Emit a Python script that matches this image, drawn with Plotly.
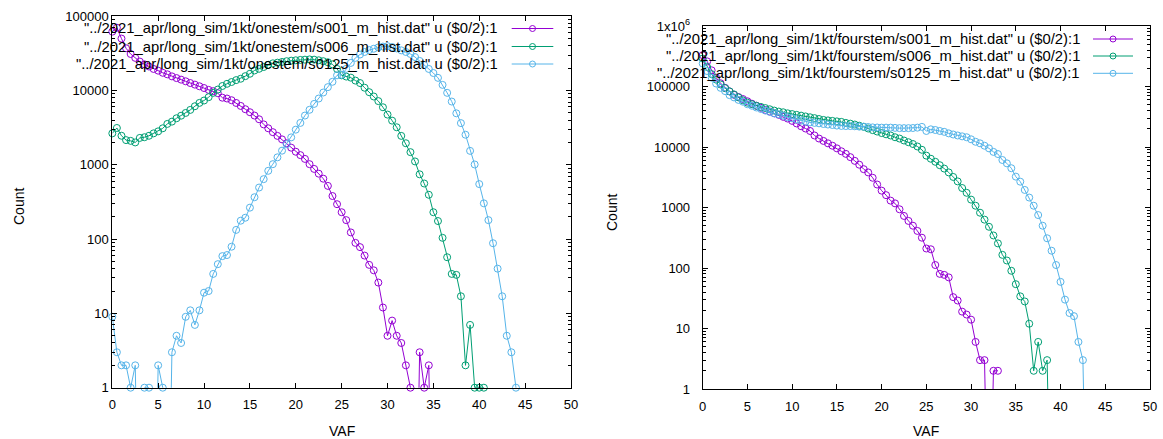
import plotly.graph_objects as go

# ---- data (counts per VAF bin, bins every 0.5 VAF: x = $0/2) ----
left_s001 = [62000, 70000, 50000, 37000, 31000, 27500, 24500, 22500, 21000, 19500,
             18500, 17300, 16500, 15500, 14700, 14000, 13300, 12600, 12000, 11400,
             10800, 10200, 9800, 9200, 8000, 7800, 7400, 6800, 6200, 5600,
             5100, 4600, 4100, 3500, 3100, 2750, 2450, 2200, 1950, 1700,
             1500, 1350, 1200, 1020, 880, 760, 650, 520, 380, 295,
             230, 180, 123, 89, 78, 60, 45, 38, 26, 12,
             5, 8, 5, 4, 2, 1, 0, 3, 1, 2, 0]
left_s006 = [2650, 3130, 2460, 2150, 2100, 2000, 2300, 2350, 2460, 2650,
             2820, 3100, 3550, 3810, 4230, 4580, 4990, 5480, 6140, 6810,
             7330, 8130, 9300, 10300, 11500, 12300, 13000, 13800, 14400, 15600,
             16800, 18600, 19600, 20700, 22200, 23200, 23700, 24200, 24800, 25200,
             25500, 25800, 26000, 26200, 26000, 25500, 24800, 24000, 22500, 19500,
             16000, 15400, 14900, 13600, 12600, 10900, 9500, 8300, 7200, 5950,
             4740, 3930, 3200, 2450, 1950, 1480, 1110, 745, 560, 395,
             230, 175, 104, 57, 34, 33, 17, 2, 7, 1, 1, 1, 0]
left_s0125 = [9, 3, 2, 2, 1, 2, 0, 1, 1, 0,
              2, 1, 0, 3, 5, 4, 9, 11, 7, 11,
              19, 20, 34, 46, 59, 61, 79, 133, 177, 194,
              265, 366, 494, 641, 830, 1020, 1260, 1550, 1900, 2340,
              2970, 3660, 4600, 5500, 6600, 7800, 9400, 11100, 13100, 16000,
              16300, 19600, 23500, 27500, 30500, 33000, 35000, 36500, 38000, 39000,
              39500, 38500, 36800, 34700, 33000, 31000, 28200, 25000, 22000, 19500,
              17200, 14800, 11900, 9300, 7100, 4930, 3640, 2540, 1540, 1010,
              550, 303, 180, 88, 40, 17, 5, 3, 1, 0]

right_s001 = [330000, 260000, 185000, 140000, 113000, 95000, 83000, 73000, 67000, 62000,
              57000, 52000, 48000, 44500, 41000, 38500, 36000, 34000, 31500, 29500,
              27000, 24500, 22000, 20200, 18400, 15500, 13800, 12600, 11500, 10500,
              9500, 8500, 7700, 6800, 5900, 5100, 4300, 3800, 3100, 2400,
              1900, 1600, 1300, 1170, 935, 725, 600, 500, 410, 317,
              210, 204, 112, 80, 77, 70, 33, 29, 19, 17,
              14, 6, 3, 3, 0, 2, 2]
right_s006 = [290000, 210000, 160000, 130000, 108000, 94000, 83000, 74000, 66000, 59000,
              54000, 51000, 48000, 46000, 44000, 42000, 40000, 38500, 37500, 36000,
              35000, 34000, 33000, 32000, 31000, 30000, 29000, 28000, 27500, 27000,
              26500, 26000, 25000, 24300, 23500, 22500, 21500, 20200, 19000, 18000,
              17000, 16200, 15500, 14500, 13800, 12800, 12000, 11200, 10200, 9000,
              7200, 6400, 5700, 5000, 4400, 3800, 3200, 2700, 2100, 1750,
              1350, 1070, 820, 630, 480, 345, 255, 165, 133, 90,
              54, 34, 28, 12, 2, 6, 2, 3, 0]
right_s0125 = [240000, 180000, 140000, 112000, 95000, 84000, 72000, 66000, 60000, 56000,
               51000, 48000, 45000, 42500, 40000, 38000, 36000, 34700, 33000, 31000,
               29800, 28500, 27300, 26200, 25500, 25000, 24600, 24000, 23500, 23100,
               22600, 22300, 22200, 22200, 22000, 21700, 21700, 21400, 21100, 21000,
               20900, 20900, 20900, 20700, 20500, 20500, 20500, 20600, 20900, 21500,
               18400, 19600, 19100, 18400, 17800, 16800, 16100, 15500, 15000, 14500,
               13400, 12200, 11500, 10500, 9500, 8300, 7650, 6100, 5370, 4460,
               3240, 2670, 1950, 1460, 1070, 750, 500, 310, 193, 112,
               59, 30, 18, 16, 6, 3, 0]

left_names = ['"../2021_apr/long_sim/1kt/onestem/s001_m_hist.dat" u ($0/2):1',
              '"../2021_apr/long_sim/1kt/onestem/s006_m_hist.dat" u ($0/2):1',
              '"../2021_apr/long_sim/1kt/onestem/s0125_m_hist.dat" u ($0/2):1']
right_names = ['"../2021_apr/long_sim/1kt/fourstem/s001_m_hist.dat" u ($0/2):1',
               '"../2021_apr/long_sim/1kt/fourstem/s006_m_hist.dat" u ($0/2):1',
               '"../2021_apr/long_sim/1kt/fourstem/s0125_m_hist.dat" u ($0/2):1']
colors = ["#9400d3", "#009e73", "#56b4e9"]
x_ticks = [0, 5, 10, 15, 20, 25, 30, 35, 40, 45, 50]
left_ytick_vals = [1, 10, 100, 1000, 10000, 100000]
left_ytick_text = ["1", "10", "100", "1000", "10000", "100000"]
right_ytick_vals = [1, 10, 100, 1000, 10000, 100000, 1000000]
right_ytick_text = ["1", "10", "100", "1000", "10000", "100000", "1x10<sup>6</sup>"]
minor_digits = [2, 3, 4, 5, 6, 7, 8, 9]

W, H = 1163, 439
FONT = "Liberation Sans, Arial, sans-serif"


def px_x(p):
    return p / W


def px_y(p):
    return 1 - p / H


def minor_positions(decades):
    return [d * 10 ** e for e in range(decades) for d in minor_digits]


fig = go.Figure()


def add_series(vals, color, xa, ya):
    xs = [i / 2 for i in range(len(vals))]
    # zero counts cannot be shown on a log axis; push them far below the range
    ys = [v if v > 0 else 1e-3 for v in vals]
    fig.add_trace(go.Scatter(
        x=xs, y=ys, mode="lines+markers", xaxis=xa, yaxis=ya,
        line=dict(color=color, width=1),
        marker=dict(symbol="circle-open", size=7, color=color, line=dict(width=1, color=color)),
        cliponaxis=False, showlegend=False, hoverinfo="skip"))


for vals, c in zip([left_s001, left_s006, left_s0125], colors):
    add_series(vals, c, "x", "y")
for vals, c in zip([right_s001, right_s006, right_s0125], colors):
    add_series(vals, c, "x2", "y2")

# plot area pixel boxes
L = dict(x0=112.3, x1=571, y0=16.2, y1=387.7)
R = dict(x0=702.7, x1=1150, y0=26, y1=389)

axis_common = dict(showline=True, linecolor="black", linewidth=1, mirror="ticks",
                   ticks="inside", ticklen=5, tickcolor="black", showgrid=False,
                   zeroline=False, tickfont=dict(family=FONT, size=13, color="black"),
                   automargin=False)

minor_common = dict(ticks="inside", ticklen=3, tickcolor="black", tickmode="array", showgrid=False)

fig.update_layout(
    width=W, height=H, margin=dict(l=0, r=0, t=0, b=0),
    paper_bgcolor="white", plot_bgcolor="white",
    font=dict(family=FONT, size=13, color="black"),
    xaxis=dict(domain=[px_x(L["x0"]), px_x(L["x1"])], range=[0, 50], anchor="y",
               tickvals=x_ticks, ticklabelstandoff=5, **axis_common),
    yaxis=dict(domain=[px_y(L["y1"]), px_y(L["y0"])], type="log", range=[0, 5], anchor="x",
               tickvals=left_ytick_vals, ticktext=left_ytick_text,
               minor=dict(tickvals=minor_positions(5), **minor_common),
               **axis_common),
    xaxis2=dict(domain=[px_x(R["x0"]), px_x(R["x1"])], range=[0, 50], anchor="y2",
                tickvals=x_ticks, ticklabelstandoff=5, **axis_common),
    yaxis2=dict(domain=[px_y(R["y1"]), px_y(R["y0"])], type="log", range=[0, 6], anchor="x2",
                tickvals=right_ytick_vals, ticktext=right_ytick_text, ticklabelstandoff=9,
                minor=dict(tickvals=minor_positions(6), **minor_common),
                **axis_common),
)

ann = []
shapes = []
title_font = dict(family=FONT, size=14, color="black")
# axis titles
for txt, xp, yp, ang in [("VAF", (L["x0"] + L["x1"]) / 2, 431, 0),
                         ("VAF", (R["x0"] + R["x1"]) / 2, 431, 0),
                         ("Count", 19, 207, -90),
                         ("Count", 612, 213, -90)]:
    ann.append(dict(text=txt, x=px_x(xp), y=px_y(yp), xref="paper", yref="paper",
                    xanchor="center", yanchor="middle", textangle=ang,
                    showarrow=False, font=title_font))


# gnuplot-style key: text right-aligned, sample to its right
def add_key(names, text_right, line_x0, line_x1, rows):
    for name, c, yy in zip(names, colors, rows):
        ann.append(dict(text=name, x=px_x(text_right), y=px_y(yy), xref="paper", yref="paper",
                        xanchor="right", yanchor="middle", showarrow=False,
                        font=dict(family=FONT, size=14.8, color="black")))
        shapes.append(dict(type="line", xref="paper", yref="paper",
                           x0=px_x(line_x0), x1=px_x(line_x1), y0=px_y(yy), y1=px_y(yy),
                           line=dict(color=c, width=1)))
        mx = (line_x0 + line_x1) / 2
        shapes.append(dict(type="circle", xref="paper", yref="paper",
                           xsizemode="pixel", ysizemode="pixel",
                           xanchor=px_x(mx), yanchor=px_y(yy),
                           x0=-3, x1=3, y0=-3, y1=3,
                           line=dict(color=c, width=1)))


add_key(left_names, 500, 511.7, 553.3, [28.5, 46.5, 64])
add_key(right_names, 1082, 1093, 1133, [39, 56, 73.3])

fig.update_layout(annotations=ann, shapes=shapes)

fig.write_html("out.html", config={"displayModeBar": False},
               post_script="document.body.style.margin='0';document.body.style.overflow='hidden';")
